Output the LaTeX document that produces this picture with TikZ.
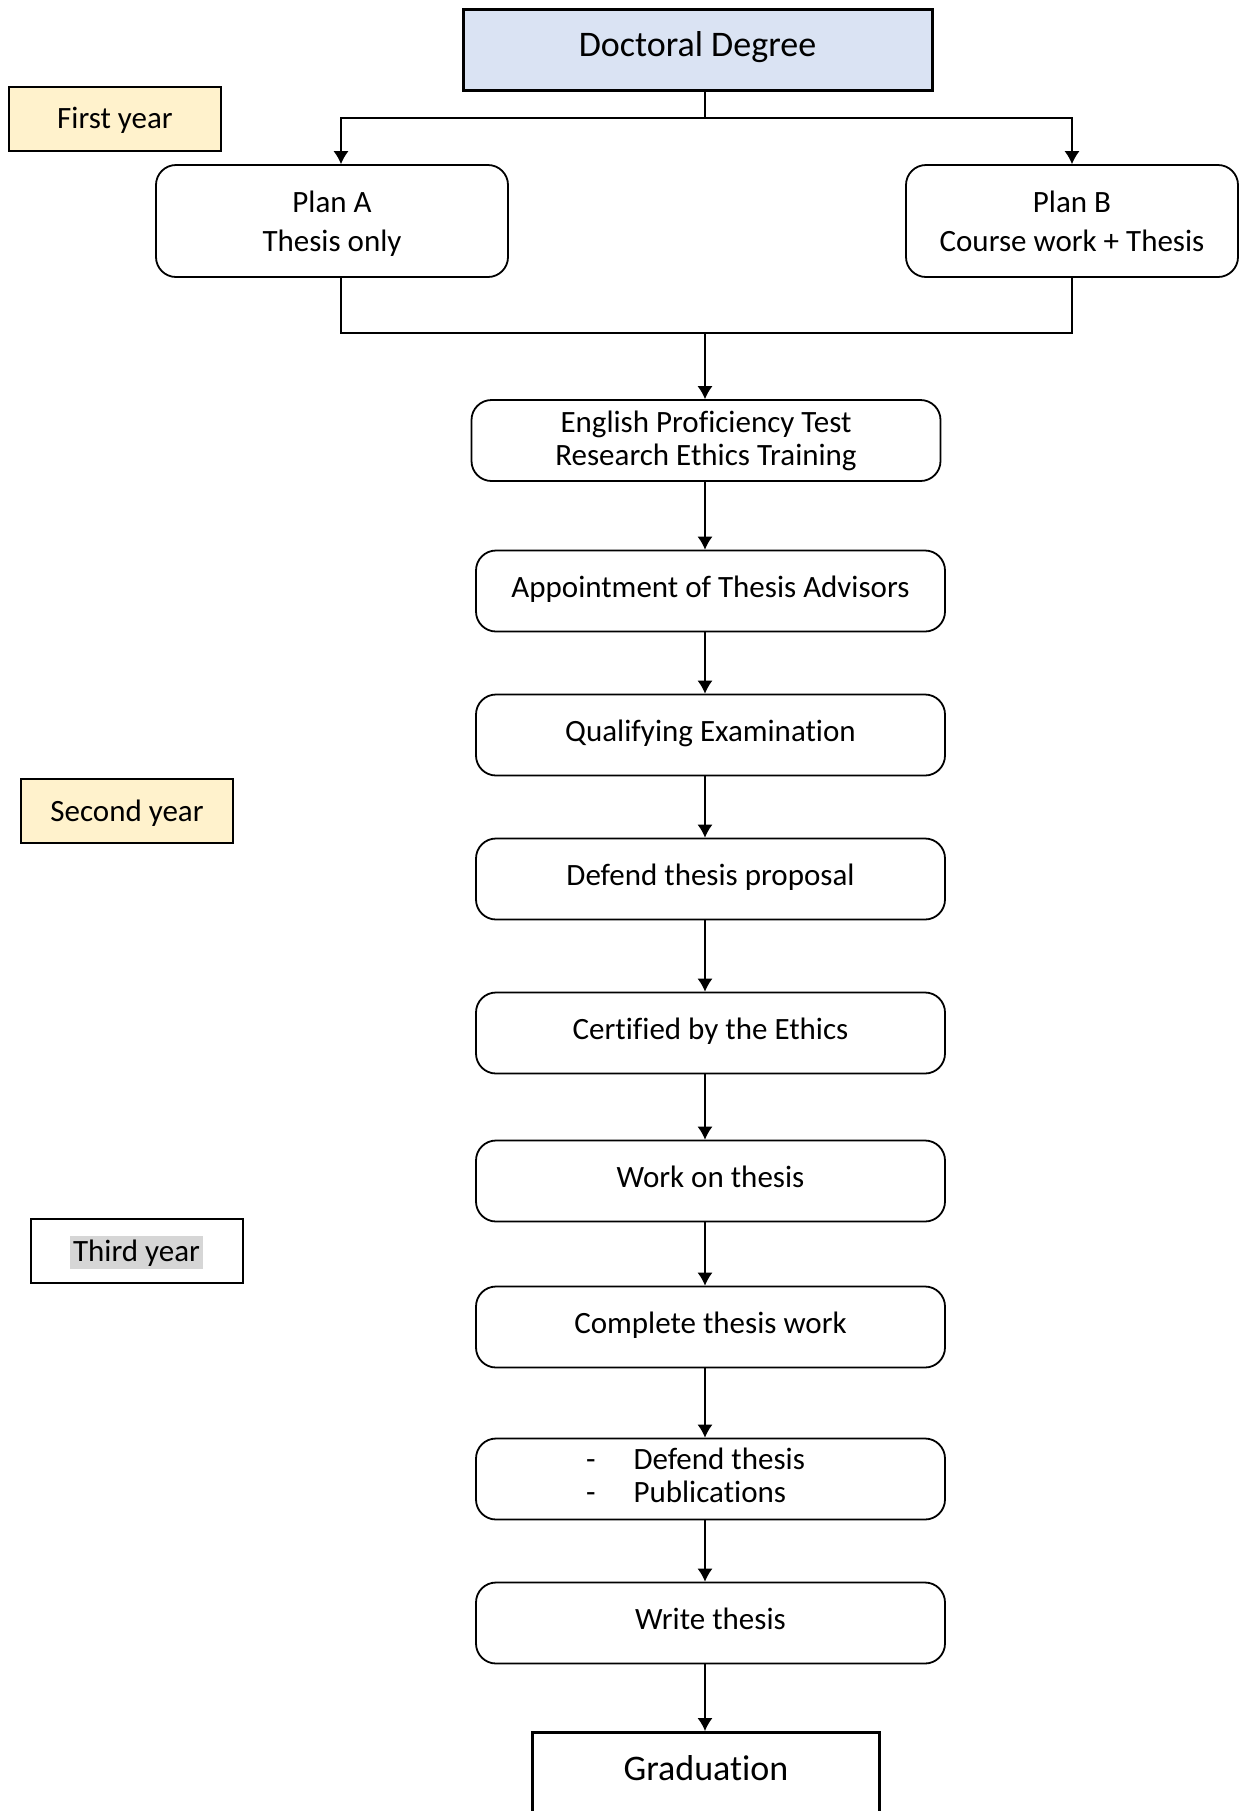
\documentclass[tikz,border=0pt]{standalone}
\usepackage{fontspec}
\setmainfont{Carlito}[Ligatures=NoCommon]
\usepackage{tikz}
\usetikzlibrary{arrows.meta}
\definecolor{degreeblue}{HTML}{DAE3F3}
\definecolor{yearyellow}{HTML}{FFF2CC}
\definecolor{marker}{HTML}{D6D6D6}
\tikzstyle{stage} = [draw, rounded corners=10pt, line width=0.9pt, minimum width=234.5pt, minimum height=40.5pt, align=center, font=\fontsize{15.5pt}{16.5pt}\selectfont]
\tikzstyle{task} = [stage, text height=11.5pt, text depth=5pt]
\tikzstyle{plan} = [stage, minimum height=56pt, text depth=0pt]
\tikzstyle{year} = [draw, line width=1pt, minimum width=106pt, minimum height=32pt, text height=11.5pt, text depth=1.5pt, font=\fontsize{15.5pt}{16.5pt}\selectfont]
\tikzstyle{degree} = [draw, line width=1.5pt, fill=degreeblue, minimum width=234.5pt, minimum height=40.5pt, text height=13pt, text depth=6.5pt, font=\fontsize{18pt}{20pt}\selectfont]
\tikzstyle{link} = [line width=0.6pt]
\tikzstyle{flow} = [link, -{Latex[length=6.5pt,width=7.5pt]}]

\begin{document}
\begin{tikzpicture}[x=0.5pt, y=-0.5pt]
	\clip (0,0) rectangle (1239,1811);
	\node[degree] (degree) at (697.5,49.5) {Doctoral Degree};
	\node[year, fill=yearyellow] (first) at (115,118.5) {First year};
	\node[year, fill=yearyellow] (second) at (127,811) {Second year};
	\node[year] (third) at (136.5,1251) {\setlength\fboxsep{1.5pt}\colorbox{marker}{Third year}};

	\node[plan, minimum width=176pt] (planA) at (332,221) {Plan A\\[3pt]Thesis only};
	\node[plan, minimum width=166pt] (planB) at (1072,221) {Plan B\\[3pt]Course work + Thesis};

	\node[stage] (english) at (706,440.5) {English Proficiency Test\\Research Ethics Training};
	\node[task] (advisors) at (710.5,591) {Appointment of Thesis Advisors};
	\node[task] (qualify) at (710.5,735) {Qualifying Examination};
	\node[task] (proposal) at (710.5,879) {Defend thesis proposal};
	\node[task] (ethics) at (710.5,1033) {Certified by the Ethics};
	\node[task] (work) at (710.5,1181) {Work on thesis};
	\node[task] (complete) at (710.5,1327) {Complete thesis work};
	\node[stage] (defend) at (710.5,1479) {\hspace*{-15pt}\begin{tabular}{@{}l@{\hspace{19pt}}l@{}}-&Defend thesis\\-&Publications\end{tabular}};
	\node[task] (write) at (710.5,1623) {Write thesis};
	\node[draw, line width=1.5pt, minimum width=173.5pt, anchor=north, inner ysep=0pt, text height=24pt, text depth=32pt, font=\fontsize{18pt}{20pt}\selectfont] (grad) at (706,1731) {Graduation};

	\coordinate (split) at (705,118);
	\coordinate (merge) at (705,333);
	\path (planA.north) ++(9,0) coordinate (planAin);
	\path (planA.south) ++(9,0) coordinate (planAout);
	\draw[link] (split |- degree.south) -- (split);
	\draw[flow] (split) -| (planAin);
	\draw[flow] (split) -| (planB.north);
	\draw[link] (planAout) |- (merge) -| (planB.south);
	\draw[flow] (merge) -- (english.north -| merge);

	\foreach \from/\to in {english/advisors, advisors/qualify, qualify/proposal, proposal/ethics, ethics/work, work/complete, complete/defend, defend/write, write/grad}
		\draw[flow] (\from.south -| merge) -- (\to.north -| merge);
\end{tikzpicture}
\end{document}
